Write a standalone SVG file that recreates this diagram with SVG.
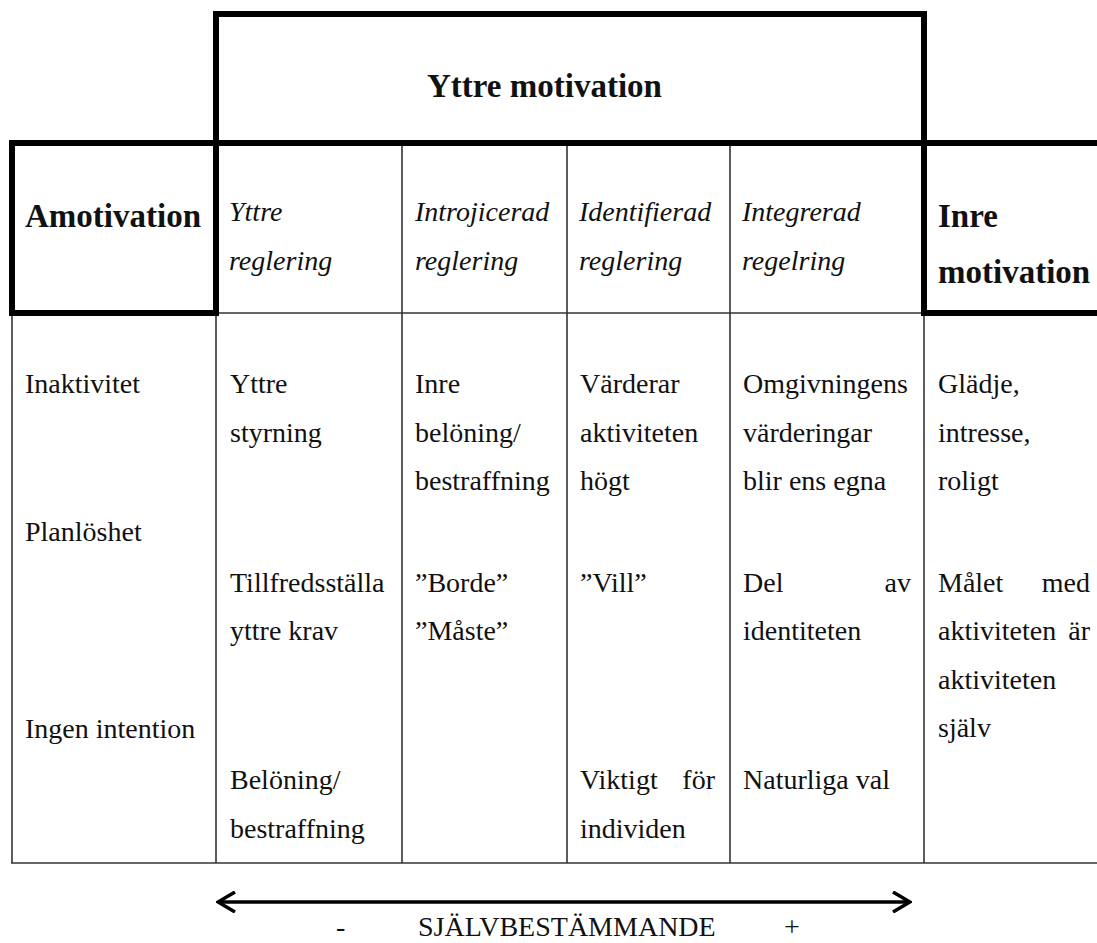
<svg xmlns="http://www.w3.org/2000/svg" width="1097" height="943" viewBox="0 0 1097 943">
<style>
.t{font-family:"Liberation Serif","Times New Roman",serif;font-size:28px;fill:#111}
.i{font-style:italic}
.b{font-weight:bold;font-size:33px}
.thin{stroke:#333;stroke-width:1.6;fill:none}
.thick{stroke:#000;stroke-width:6;fill:none}
.arr{stroke:#000;stroke-width:3.5;fill:none}
</style>
<defs>
<marker id="ah" viewBox="0 0 20 22" refX="18" refY="11" markerWidth="20" markerHeight="22" markerUnits="userSpaceOnUse" orient="auto-start-reverse">
<path d="M1,1 L18,11 L1,21" fill="none" stroke="#000" stroke-width="3.5"/>
</marker>
</defs>
<rect width="1097" height="943" fill="#fff"/>

<g id="grid">
<line class="thin" x1="402" y1="143" x2="402" y2="863"/>
<line class="thin" x1="567" y1="143" x2="567" y2="863"/>
<line class="thin" x1="730" y1="143" x2="730" y2="863"/>
<line class="thin" x1="12" y1="313" x2="12" y2="863"/>
<line class="thin" x1="216" y1="313" x2="216" y2="863"/>
<line class="thin" x1="924" y1="313" x2="924" y2="863"/>
<line class="thin" x1="216" y1="313" x2="924" y2="313"/>
<line class="thin" x1="11" y1="863" x2="1097" y2="863"/>
</g>

<g id="yttre-motivation">
<rect class="thick" x="216" y="14" width="708" height="129"/>
<text class="t b" x="427" y="97">Yttre motivation</text>
</g>

<g id="amotivation">
<rect class="thick" x="12" y="143" width="204" height="170"/>
<text class="t b" x="25" y="227">Amotivation</text>
</g>

<g id="inre-motivation">
<path class="thick" d="M1100,143 H924 V313 H1100"/>
<text class="t b" x="938" y="227">Inre</text>
<text class="t b" x="938" y="283">motivation</text>
</g>

<g id="h-yttre-reglering">
<text class="t i" x="229" y="221">Yttre</text>
<text class="t i" x="229" y="270">reglering</text>
</g>
<g id="h-introjicerad">
<text class="t i" x="415" y="221">Introjicerad</text>
<text class="t i" x="415" y="270">reglering</text>
</g>
<g id="h-identifierad">
<text class="t i" x="579" y="221">Identifierad</text>
<text class="t i" x="579" y="270">reglering</text>
</g>
<g id="h-integrerad">
<text class="t i" x="742" y="221">Integrerad</text>
<text class="t i" x="742" y="270">regelring</text>
</g>

<g id="col-amotivation">
<text class="t" x="25" y="393">Inaktivitet</text>
<text class="t" x="25" y="541">Planlöshet</text>
<text class="t" x="25" y="738">Ingen intention</text>
</g>
<g id="col-yttre">
<text class="t" x="230" y="393">Yttre</text>
<text class="t" x="230" y="442">styrning</text>
<text class="t" x="230" y="592">Tillfredsställa</text>
<text class="t" x="230" y="640">yttre krav</text>
<text class="t" x="230" y="789">Belöning/</text>
<text class="t" x="230" y="838">bestraffning</text>
</g>
<g id="col-introjicerad">
<text class="t" x="415" y="393">Inre</text>
<text class="t" x="415" y="442">belöning/</text>
<text class="t" x="415" y="490">bestraffning</text>
<text class="t" x="415" y="592">”Borde”</text>
<text class="t" x="415" y="640">”Måste”</text>
</g>
<g id="col-identifierad">
<text class="t" x="580" y="393">Värderar</text>
<text class="t" x="580" y="442">aktiviteten</text>
<text class="t" x="580" y="490">högt</text>
<text class="t" x="580" y="592">”Vill”</text>
<text class="t" x="580" y="789">Viktigt</text>
<text class="t" x="715" y="789" text-anchor="end">för</text>
<text class="t" x="580" y="838">individen</text>
</g>
<g id="col-integrerad">
<text class="t" x="743" y="393">Omgivningens</text>
<text class="t" x="743" y="442">värderingar</text>
<text class="t" x="743" y="490">blir ens egna</text>
<text class="t" x="743" y="592">Del</text>
<text class="t" x="911" y="592" text-anchor="end">av</text>
<text class="t" x="743" y="640">identiteten</text>
<text class="t" x="743" y="789">Naturliga val</text>
</g>
<g id="col-inre">
<text class="t" x="938" y="393">Glädje,</text>
<text class="t" x="938" y="442">intresse,</text>
<text class="t" x="938" y="490">roligt</text>
<text class="t" x="938" y="592">Målet</text>
<text class="t" x="1090" y="592" text-anchor="end">med</text>
<text class="t" x="938" y="640">aktiviteten</text>
<text class="t" x="1090" y="640" text-anchor="end">är</text>
<text class="t" x="938" y="689">aktiviteten</text>
<text class="t" x="938" y="737">själv</text>
</g>

<g id="connectors">
<line class="arr" x1="218" y1="902" x2="910" y2="902" marker-start="url(#ah)" marker-end="url(#ah)"/>
</g>

<g id="scale-label">
<text class="t" x="336" y="936">-</text>
<text class="t" x="418" y="936">SJÄLVBESTÄMMANDE</text>
<text class="t" x="784" y="936">+</text>
</g>
</svg>
